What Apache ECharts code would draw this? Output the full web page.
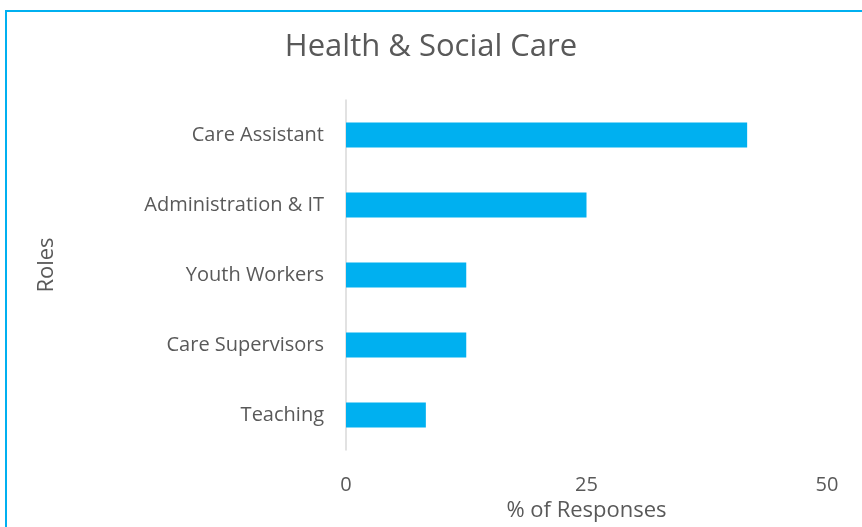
<!DOCTYPE html>
<html>
<head>
<meta charset="utf-8">
<script src="https://cdn.jsdelivr.net/npm/echarts@6/dist/echarts.min.js"></script>
<style>
  html, body { margin: 0; padding: 0; background: #fff; }
  #chart { width: 862px; height: 527px; }
</style>
</head>
<body>
<div id="chart"></div>
<script>
// roles, top to bottom
var roles = ['Care Assistant', 'Administration & IT', 'Youth Workers', 'Care Supervisors', 'Teaching'];
// % of responses
var responses = [41.7, 25, 12.5, 12.5, 8.3];
var xTicks = [0, 25, 50];

var chartDom = document.getElementById('chart');
var myChart = echarts.init(chartDom);

var fontName = '"Open Sans", "Noto Sans", sans-serif';
var textColor = '#595959';

var option = {
	animation: false,
	backgroundColor: '#fff',
	textStyle: { fontFamily: fontName },
	// chart frame (runs off the right and bottom like the picture)
	graphic: [{
		type: 'rect',
		shape: { x: 6, y: 11, width: 900, height: 560 },
		style: { fill: 'none', stroke: '#00B0F0', lineWidth: 2 },
		silent: true
	}],
	title: {
		text: 'Health & Social Care',
		left: 'center',
		top: 27,
		textStyle: { fontFamily: fontName, fontSize: 31, fontWeight: 'normal', color: textColor }
	},
	grid: { left: 346, right: 35, top: 100, bottom: 77 },
	xAxis: {
		type: 'value',
		min: xTicks[0],
		max: xTicks[xTicks.length - 1],
		interval: 25,
		name: '% of Responses',
		nameLocation: 'middle',
		nameGap: 40,
		nameTextStyle: { fontFamily: fontName, fontSize: 22, color: textColor },
		axisLine: { show: false },
		axisTick: { show: false },
		splitLine: { show: false },
		axisLabel: { fontFamily: fontName, fontSize: 20, color: textColor, margin: 25 }
	},
	yAxis: {
		type: 'category',
		data: roles,
		inverse: true,
		name: 'Roles',
		nameLocation: 'middle',
		nameGap: 288,
		nameTextStyle: { fontFamily: fontName, fontSize: 22, color: textColor, padding: [0, 0, 0, 20] },
		axisLine: { show: true, lineStyle: { color: '#D9D9D9', width: 1.5 } },
		axisTick: { show: false },
		axisLabel: { fontFamily: fontName, fontSize: 20, color: textColor, margin: 22 }
	},
	series: [{
		type: 'bar',
		data: responses,
		barWidth: 25,
		itemStyle: { color: '#00B0F0' }
	}]
};

myChart.setOption(option);
</script>
</body>
</html>
